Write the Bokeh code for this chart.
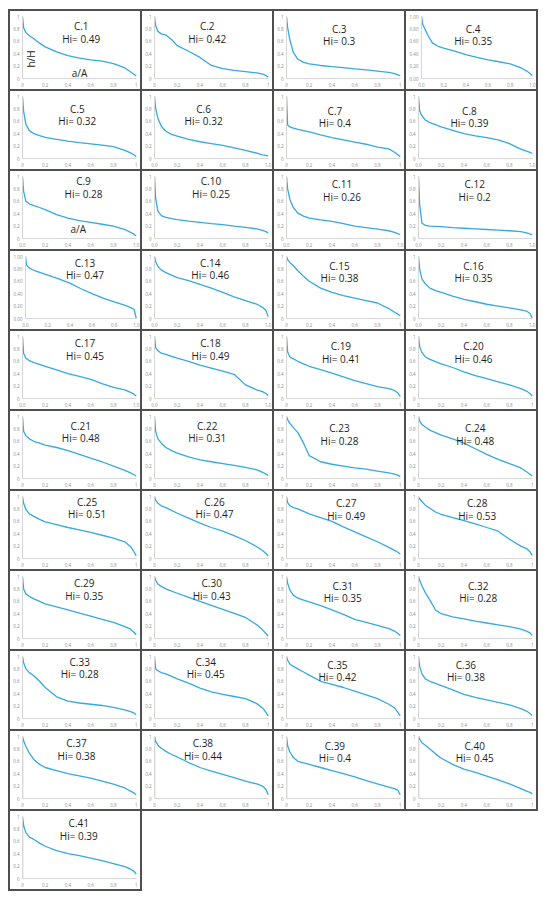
from bokeh.plotting import figure
from bokeh.layouts import column, row
from bokeh.models import (FixedTicker, Range1d, LinearAxis, Label, Spacer,
                          NumeralTickFormatter, ColumnDataSource)
from bokeh.embed import file_html
from bokeh.resources import INLINE

# relative area a/A sample positions
X = [0, 0.01, 0.03, 0.06, 0.1, 0.15, 0.2, 0.3, 0.4, 0.5, 0.6, 0.7, 0.8, 0.9, 0.95, 0.98, 1.0]

# relative height h/H read at X for each catchment
c01 = [1.00, 0.82, 0.74, 0.69, 0.64, 0.57, 0.51, 0.43, 0.37, 0.33, 0.30, 0.28, 0.24, 0.17, 0.11, 0.07, 0.04]
c02 = [1.00, 0.85, 0.76, 0.72, 0.70, 0.63, 0.53, 0.44, 0.34, 0.21, 0.16, 0.13, 0.11, 0.09, 0.07, 0.05, 0.02]
c03 = [1.00, 0.82, 0.62, 0.42, 0.31, 0.26, 0.235, 0.21, 0.19, 0.175, 0.155, 0.14, 0.12, 0.10, 0.08, 0.06, 0.04]
c04 = [1.00, 0.88, 0.80, 0.69, 0.57, 0.52, 0.49, 0.44, 0.385, 0.34, 0.30, 0.27, 0.235, 0.17, 0.12, 0.08, 0.05]
c05 = [1.00, 0.76, 0.55, 0.45, 0.40, 0.37, 0.34, 0.31, 0.28, 0.255, 0.235, 0.215, 0.19, 0.13, 0.09, 0.06, 0.03]
c06 = [1.00, 0.81, 0.65, 0.52, 0.44, 0.39, 0.36, 0.31, 0.27, 0.24, 0.21, 0.17, 0.13, 0.085, 0.06, 0.05, 0.04]
c07 = [1.00, 0.54, 0.51, 0.49, 0.47, 0.45, 0.43, 0.38, 0.335, 0.30, 0.265, 0.23, 0.185, 0.155, 0.10, 0.06, 0.03]
c08 = [1.00, 0.77, 0.69, 0.62, 0.58, 0.545, 0.51, 0.455, 0.40, 0.365, 0.335, 0.30, 0.24, 0.15, 0.12, 0.10, 0.08]
c09 = [1.00, 0.76, 0.60, 0.56, 0.53, 0.50, 0.465, 0.385, 0.33, 0.29, 0.26, 0.23, 0.20, 0.145, 0.10, 0.07, 0.04]
c10 = [1.00, 0.65, 0.44, 0.37, 0.34, 0.32, 0.305, 0.28, 0.26, 0.24, 0.225, 0.20, 0.18, 0.155, 0.13, 0.11, 0.09]
c11 = [1.00, 0.80, 0.63, 0.50, 0.41, 0.36, 0.33, 0.30, 0.275, 0.24, 0.20, 0.175, 0.15, 0.125, 0.10, 0.08, 0.06]
c12 = [1.00, 0.55, 0.25, 0.21, 0.20, 0.195, 0.19, 0.175, 0.165, 0.155, 0.145, 0.135, 0.125, 0.11, 0.09, 0.075, 0.06]
c13 = [1.00, 0.86, 0.82, 0.79, 0.76, 0.73, 0.70, 0.64, 0.57, 0.48, 0.40, 0.33, 0.27, 0.21, 0.175, 0.145, 0.00]
c14 = [1.00, 0.92, 0.84, 0.78, 0.74, 0.70, 0.66, 0.61, 0.55, 0.49, 0.42, 0.35, 0.29, 0.23, 0.18, 0.13, 0.03]
c15 = [1.00, 0.95, 0.90, 0.85, 0.77, 0.68, 0.60, 0.49, 0.42, 0.37, 0.33, 0.29, 0.25, 0.16, 0.10, 0.07, 0.04]
c16 = [1.00, 0.80, 0.64, 0.56, 0.49, 0.45, 0.42, 0.36, 0.31, 0.27, 0.23, 0.20, 0.17, 0.14, 0.12, 0.08, 0.01]
c17 = [1.00, 0.73, 0.65, 0.61, 0.58, 0.55, 0.52, 0.46, 0.40, 0.355, 0.31, 0.24, 0.18, 0.14, 0.10, 0.07, 0.04]
c18 = [1.00, 0.82, 0.77, 0.73, 0.71, 0.68, 0.65, 0.60, 0.54, 0.49, 0.44, 0.39, 0.22, 0.14, 0.11, 0.08, 0.05]
c19 = [1.00, 0.75, 0.67, 0.64, 0.60, 0.56, 0.52, 0.465, 0.41, 0.35, 0.29, 0.24, 0.19, 0.16, 0.13, 0.09, 0.03]
c20 = [1.00, 0.84, 0.74, 0.67, 0.63, 0.595, 0.56, 0.50, 0.43, 0.37, 0.32, 0.27, 0.22, 0.16, 0.12, 0.08, 0.04]
c21 = [1.00, 0.76, 0.69, 0.64, 0.60, 0.57, 0.54, 0.50, 0.45, 0.39, 0.33, 0.27, 0.20, 0.13, 0.09, 0.06, 0.04]
c22 = [1.00, 0.76, 0.64, 0.57, 0.50, 0.45, 0.41, 0.35, 0.30, 0.27, 0.24, 0.21, 0.18, 0.14, 0.10, 0.07, 0.05]
c23 = [1.00, 0.95, 0.89, 0.82, 0.74, 0.57, 0.37, 0.27, 0.23, 0.20, 0.17, 0.15, 0.12, 0.09, 0.07, 0.05, 0.03]
c24 = [1.00, 0.93, 0.87, 0.83, 0.78, 0.74, 0.70, 0.64, 0.57, 0.48, 0.39, 0.31, 0.24, 0.17, 0.11, 0.07, 0.04]
c25 = [1.00, 0.89, 0.79, 0.72, 0.68, 0.63, 0.59, 0.545, 0.50, 0.46, 0.42, 0.375, 0.33, 0.27, 0.19, 0.11, 0.04]
c26 = [1.00, 0.94, 0.89, 0.85, 0.82, 0.775, 0.73, 0.65, 0.57, 0.50, 0.44, 0.37, 0.29, 0.19, 0.13, 0.08, 0.04]
c27 = [1.00, 0.90, 0.85, 0.82, 0.80, 0.76, 0.72, 0.66, 0.60, 0.51, 0.43, 0.35, 0.27, 0.18, 0.13, 0.10, 0.07]
c28 = [1.00, 0.96, 0.92, 0.86, 0.81, 0.75, 0.71, 0.66, 0.61, 0.56, 0.50, 0.44, 0.31, 0.20, 0.16, 0.11, 0.05]
c29 = [1.00, 0.80, 0.72, 0.68, 0.64, 0.60, 0.56, 0.51, 0.46, 0.41, 0.36, 0.31, 0.26, 0.19, 0.15, 0.10, 0.06]
c30 = [1.00, 0.94, 0.88, 0.84, 0.80, 0.765, 0.73, 0.665, 0.60, 0.535, 0.47, 0.405, 0.34, 0.22, 0.14, 0.08, 0.04]
c31 = [1.00, 0.89, 0.78, 0.70, 0.65, 0.62, 0.59, 0.53, 0.46, 0.39, 0.31, 0.26, 0.21, 0.16, 0.12, 0.08, 0.05]
c32 = [1.00, 0.94, 0.85, 0.74, 0.62, 0.46, 0.40, 0.35, 0.315, 0.28, 0.25, 0.22, 0.19, 0.15, 0.12, 0.09, 0.05]
c33 = [1.00, 0.90, 0.80, 0.74, 0.69, 0.60, 0.50, 0.35, 0.28, 0.25, 0.23, 0.21, 0.18, 0.14, 0.11, 0.09, 0.06]
c34 = [1.00, 0.80, 0.77, 0.74, 0.72, 0.68, 0.64, 0.57, 0.49, 0.43, 0.39, 0.355, 0.32, 0.24, 0.17, 0.10, 0.04]
c35 = [1.00, 0.94, 0.88, 0.84, 0.80, 0.75, 0.70, 0.60, 0.55, 0.50, 0.44, 0.38, 0.32, 0.23, 0.17, 0.10, 0.04]
c36 = [1.00, 0.84, 0.72, 0.64, 0.60, 0.565, 0.53, 0.46, 0.39, 0.34, 0.30, 0.26, 0.22, 0.16, 0.12, 0.08, 0.05]
c37 = [1.00, 0.93, 0.84, 0.73, 0.63, 0.55, 0.50, 0.45, 0.40, 0.365, 0.33, 0.28, 0.23, 0.17, 0.12, 0.09, 0.06]
c38 = [1.00, 0.92, 0.86, 0.81, 0.76, 0.71, 0.67, 0.58, 0.50, 0.44, 0.39, 0.335, 0.28, 0.235, 0.20, 0.15, 0.06]
c39 = [1.00, 0.85, 0.75, 0.66, 0.60, 0.575, 0.55, 0.50, 0.45, 0.40, 0.35, 0.29, 0.235, 0.185, 0.16, 0.13, 0.06]
c40 = [1.00, 0.96, 0.90, 0.86, 0.80, 0.72, 0.65, 0.55, 0.475, 0.42, 0.36, 0.30, 0.235, 0.16, 0.12, 0.10, 0.075]
c41 = [1.00, 0.85, 0.74, 0.67, 0.63, 0.57, 0.52, 0.45, 0.40, 0.37, 0.33, 0.29, 0.24, 0.19, 0.15, 0.12, 0.07]

CURVES = [c01, c02, c03, c04, c05, c06, c07, c08, c09, c10, c11, c12, c13, c14,
          c15, c16, c17, c18, c19, c20, c21, c22, c23, c24, c25, c26, c27, c28,
          c29, c30, c31, c32, c33, c34, c35, c36, c37, c38, c39, c40, c41]

# hypsometric integrals
HI = [0.49, 0.42, 0.3, 0.35, 0.32, 0.32, 0.4, 0.39, 0.28, 0.25, 0.26, 0.2,
      0.47, 0.46, 0.38, 0.35, 0.45, 0.49, 0.41, 0.46, 0.48, 0.31, 0.28, 0.48,
      0.51, 0.47, 0.49, 0.53, 0.35, 0.43, 0.35, 0.28, 0.28, 0.45, 0.42, 0.38,
      0.38, 0.44, 0.4, 0.45, 0.39]
NAMES = ["C.%d" % (i + 1) for i in range(41)]

# curves whose line starts at (0, 0) and rises along the y axis
FROM_ZERO = [37, 38, 39, 40, 41]

TICKS = [0, 0.2, 0.4, 0.6, 0.8, 1.0]
# tick label styles: a -> "0.2, 1", b -> "0.0", c -> "0.00"
X_FMT = list("aaabababbbbbbbabbb") + ["a"] * 23
Y_FMT = ["a", "a", "a", "c"] + ["a"] * 8 + ["c"] + ["a"] * 28
FMT = {"a": "0.[0]", "b": "0.0", "c": "0.00"}

# ---- layout / styling (not data) ----
CELL_W = 130
CELL_H = 78
LINE_W = 2
BORDER = "#4f4f4f"
PAD_L, PAD_B = 12, 11          # frame inset (axis panels)
PX_X = 113.7                   # pixels per unit a/A
PX_Y = 62.0                    # pixels per unit h/H
NAME_DX = [71.7, 65.7, 65.7, 66, 67.8, 62.1, 61.4, 63.9, 74, 69.5, 68.5, 69.2,
           74, 68.8, 66, 68, 75.5, 69, 67.4, 68, 71.3, 65.7, 66, 69.8,
           77.6, 73, 72.7, 71.7, 74.7, 70.2, 69.2, 72.7, 70.2, 64.2, 63.9, 60.4,
           67, 61.4, 61.4, 69.2, 69.3]
NAME_DY = [15.7, 15.7, 18.3, 18.3, 18, 18, 20, 20, 10.7, 10.7, 13.7, 13.7,
           12.3, 12.3, 15, 15, 12.7, 12.7, 15.7, 15.7, 15, 15, 17.7, 17.7,
           11, 11, 12.7, 12.7, 12.7, 12.7, 15, 15, 11, 11, 14, 14,
           12.7, 12.7, 15, 15, 12.7]
LINE_C = "#36a9e1"
FONT = "Open Sans"
TXT_C = "#1e1e1e"


def to_data(px, py):
    """cell pixel offsets (from top-left inside the border) -> data coords"""
    return (px - PAD_L) / PX_X, (CELL_H - PAD_B - py) / PX_Y


def add_text(p, px, py, text, angle=0.0):
    x, y = to_data(px - 1, py - 1)
    p.add_layout(Label(x=x, y=y, text=text, angle=angle,
                       text_align="center", text_baseline="middle",
                       text_font=FONT, text_font_size="10px", text_color=TXT_C))


def make_cell(i):
    fw = CELL_W - PAD_L
    fh = CELL_H - PAD_B
    p = figure(width=CELL_W, height=CELL_H,
               x_range=Range1d(0, fw / PX_X), y_range=Range1d(0, fh / PX_Y),
               x_axis_type=None, y_axis_type=None,
               min_border_left=PAD_L, min_border_bottom=PAD_B,
               min_border_top=0, min_border_right=0,
               toolbar_location=None, output_backend="svg")
    p.outline_line_color = None
    p.background_fill_color = "white"
    p.border_fill_color = "white"

    for loc, fmt in (("below", X_FMT[i]), ("left", Y_FMT[i])):
        ax = LinearAxis(bounds=(0, 1), ticker=FixedTicker(ticks=TICKS),
                        formatter=NumeralTickFormatter(format=FMT[fmt]))
        ax.axis_line_color = "#d6d6d6"
        ax.axis_line_width = 1
        ax.major_tick_line_color = None
        ax.minor_tick_line_color = None
        ax.major_tick_out = 0
        ax.major_tick_in = 0
        ax.minor_tick_out = 0
        ax.minor_tick_in = 0
        ax.major_label_text_font = FONT
        ax.major_label_text_font_size = "4.5px"
        ax.major_label_text_color = "#8a8a8a"
        ax.major_label_standoff = 4 if loc == "below" else 3
        p.add_layout(ax, loc)

    xs = list(X)
    ys = list(CURVES[i])
    if (i + 1) in FROM_ZERO:
        xs = [0] + xs
        ys = [0] + ys
    src = ColumnDataSource(dict(x=xs, y=ys))
    p.line("x", "y", source=src, line_color=LINE_C, line_width=1.3)

    add_text(p, NAME_DX[i], NAME_DY[i], NAMES[i])
    add_text(p, NAME_DX[i], NAME_DY[i] + 12.4, "Hi= " + str(HI[i]))
    if i == 0:
        add_text(p, 21.5, 48.5, "h/H", angle=1.5708)
        add_text(p, 70, 62.7, "a/A")
    if i == 8:
        add_text(p, 68.7, 58.3, "a/A")
    return p


def hline(w):
    return Spacer(width=w, height=LINE_W, styles={"background-color": BORDER})


def vline():
    return Spacer(width=LINE_W, height=CELL_H, styles={"background-color": BORDER})


cells = [make_cell(i) for i in range(len(CURVES))]
full_w = 4 * CELL_W + 5 * LINE_W
rows = [hline(full_w)]
n_full = len(cells) // 4
for r in range(n_full):
    items = [vline()]
    for c in range(4):
        items += [cells[r * 4 + c], vline()]
    rows.append(row(items, spacing=0))
    rows.append(hline(full_w))
rest = cells[n_full * 4:]
if rest:
    items = [vline()]
    for cell in rest:
        items += [cell, vline()]
    rows.append(row(items, spacing=0))
    rows.append(hline(len(rest) * (CELL_W + LINE_W) + LINE_W))
grid = column(rows, spacing=0)
page = row(Spacer(width=8, height=10), column(Spacer(width=10, height=9), grid, spacing=0), spacing=0)

open("out.html", "w").write(file_html(page, INLINE))
